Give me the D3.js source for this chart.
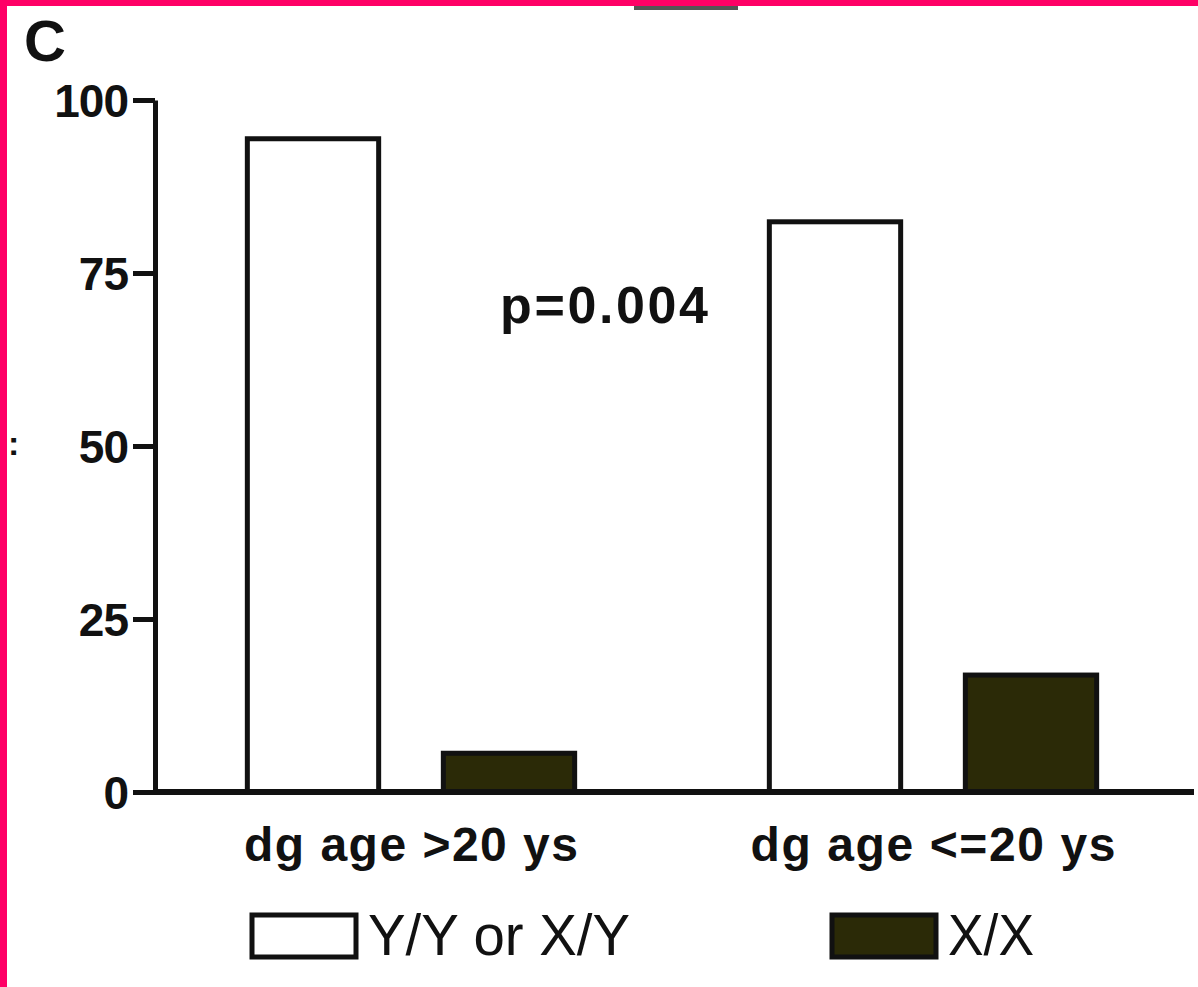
<!DOCTYPE html>
<html>
<head>
<meta charset="utf-8">
<script src="https://cdn.jsdelivr.net/npm/d3@7"></script>
<style>
  body { margin: 0; background: #fff; }
  svg { display: block; }
  text { font-family: "Liberation Sans", Arial, sans-serif; fill: #111; }
</style>
</head>
<body>
<div id="chart"></div>
<script>
// data (percent of patients)
var groups = ["dg age >20 ys", "dg age <=20 ys"];
var seriesNames = ["Y/Y or X/Y", "X/X"];
var seriesColors = ["#ffffff", "#2b2a07"];
var values = [
    [94.4, 5.6],   // dg age >20 ys
    [82.4, 16.9]   // dg age <=20 ys
];
var yTicks = [0, 25, 50, 75, 100];

var W = 1198, H = 987;

var svg = d3.select("#chart").append("svg")
        .attr("width", W)
        .attr("height", H);

var y = d3.scaleLinear().domain([0, 100]).range([792, 100]);
var x0 = d3.scaleBand().domain(groups).range([150, 1194]);
var x1 = d3.scaleBand().domain(seriesNames).range([65, 457])
        .paddingInner(0.33).paddingOuter(0.165);

// remnant of the cropped y label at the left edge
svg.append("text")
        .attr("x", 8).attr("y", 455)
        .attr("font-size", 34)
        .attr("font-weight", "bold")
        .attr("fill", "#444")
        .text(":");

// panel letter
svg.append("text")
        .attr("x", 24).attr("y", 61)
        .attr("font-size", 58)
        .attr("font-weight", "bold")
        .text("C");

// bars
var g = svg.append("g");
groups.forEach(function (grp, i) {
    seriesNames.forEach(function (s, j) {
        g.append("rect")
                .attr("x", x0(grp) + x1(s))
                .attr("y", y(values[i][j]))
                .attr("width", x1.bandwidth())
                .attr("height", y(0) - y(values[i][j]))
                .attr("fill", seriesColors[j])
                .attr("stroke", "#111")
                .attr("stroke-width", 5);
    });
});

// y axis
var yAxis = svg.append("g")
        .attr("transform", "translate(155,0)")
        .call(d3.axisLeft(y).tickValues(yTicks).tickSize(22).tickPadding(5).tickSizeOuter(0));
yAxis.select(".domain").attr("stroke", "#111").attr("stroke-width", 5);
yAxis.selectAll(".tick line").attr("stroke", "#111").attr("stroke-width", 5);
yAxis.selectAll(".tick text")
        .attr("font-size", 46)
        .attr("font-weight", "bold")
        .attr("font-family", "Liberation Sans, Arial, sans-serif")
        .attr("letter-spacing", -1)
        .attr("fill", "#111")
        .attr("dy", "0.36em");

// x axis line
svg.append("line")
        .attr("x1", 153).attr("x2", 1194)
        .attr("y1", y(0)).attr("y2", y(0))
        .attr("stroke", "#111")
        .attr("stroke-width", 6);

// group labels
svg.selectAll("text.grp")
        .data(groups)
        .enter().append("text")
        .attr("class", "grp")
        .attr("x", function (d) { return x0(d) + x0.bandwidth() / 2; })
        .attr("y", 861)
        .attr("text-anchor", "middle")
        .attr("font-size", 48)
        .attr("font-weight", "bold")
        .attr("textLength", function (d, i) { return i === 0 ? 334 : 365; })
        .attr("lengthAdjust", "spacing")
        .text(function (d) { return d; });

// p value
svg.append("text")
        .attr("x", 500).attr("y", 323)
        .attr("font-size", 52)
        .attr("font-weight", "bold")
        .attr("textLength", 208)
        .attr("lengthAdjust", "spacing")
        .text("p=0.004");

// legend
var legX = [252, 832];
var legW = [104, 104];
var legText = [368, 948];
var legLen = [262, 86];
seriesNames.forEach(function (s, j) {
    svg.append("rect")
            .attr("x", legX[j]).attr("y", 915)
            .attr("width", legW[j]).attr("height", 42)
            .attr("fill", seriesColors[j])
            .attr("stroke", "#111")
            .attr("stroke-width", 5);
    svg.append("text")
            .attr("x", legText[j]).attr("y", 955)
            .attr("font-size", 58)
            .attr("textLength", legLen[j])
            .attr("lengthAdjust", "spacingAndGlyphs")
            .attr("fill", "#222")
            .text(s);
});

// faint strip at the top and the pink frame
svg.append("rect")
        .attr("x", 634).attr("y", 6).attr("width", 104).attr("height", 4)
        .attr("fill", "#555");
svg.append("rect")
        .attr("x", 0).attr("y", 0).attr("width", W).attr("height", 6)
        .attr("fill", "#ff0066");
svg.append("rect")
        .attr("x", 0).attr("y", 0).attr("width", 7).attr("height", H)
        .attr("fill", "#ff0066");
</script>
</body>
</html>
